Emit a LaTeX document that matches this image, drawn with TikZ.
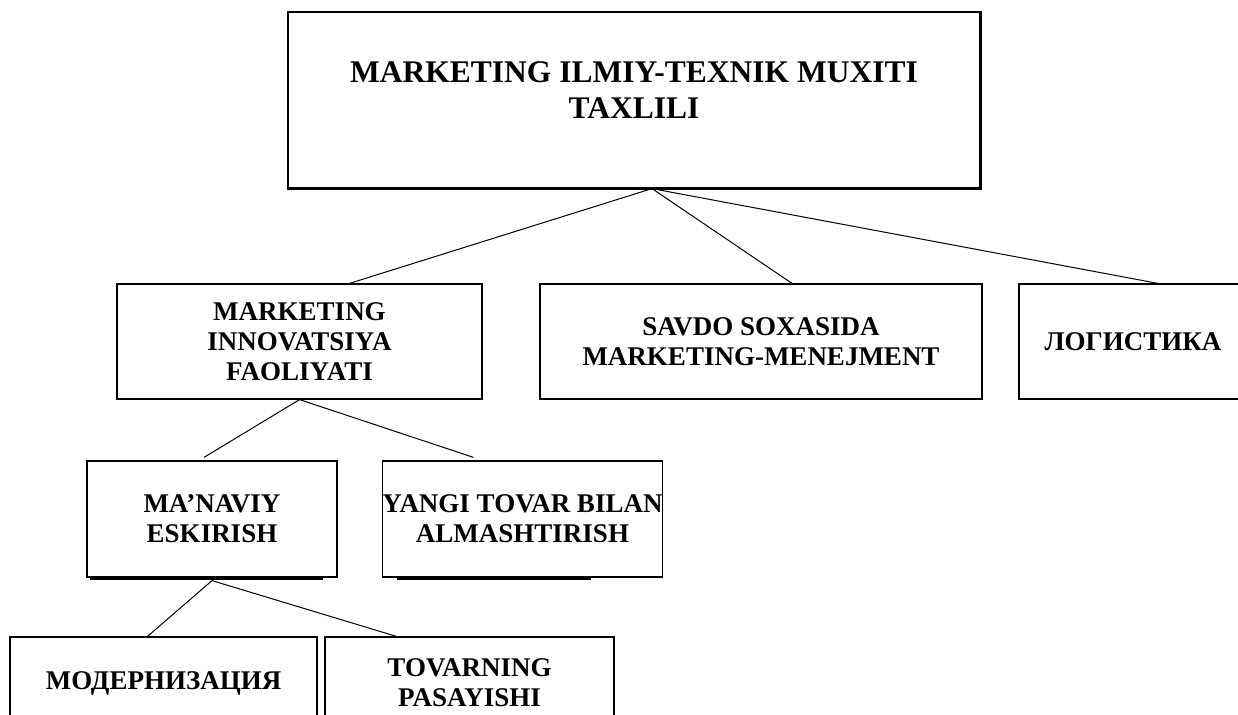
\documentclass[tikz,border=0pt]{standalone}
\usepackage{fontspec}
\setmainfont{Liberation Serif}
\usetikzlibrary{positioning}

\tikzset{
  box/.style={draw, line width=1.2pt, inner sep=0pt, align=center,
    font=\fontsize{27}{30}\selectfont\bfseries},
  link/.style={line width=1pt}
}

\begin{document}
\begin{tikzpicture}[x=1pt,y=-1pt]
        \useasboundingbox (0,0) rectangle (1238,714);

        % Top box
        \node[box, minimum width=692, minimum height=176] (taxlil) at (634,100) {};
        \node[font=\fontsize{31.5}{36}\selectfont\bfseries, align=center] (taxliltxt)
          at ([yshift=10pt]taxlil.center) {MARKETING ILMIY-TEXNIK MUXITI\\TAXLILI};
        \draw[line width=1.6pt] ([yshift=-1pt]taxlil.south west) -- ([xshift=1pt,yshift=-1pt]taxlil.south east)
          -- ([xshift=1pt]taxlil.north east);

        % Second row
        \node[box, minimum width=365, minimum height=115] (innov) at (299.5,341.5)
          {MARKETING\\INNOVATSIYA\\FAOLIYATI};
        \node[box, minimum width=442, minimum height=115] (savdo) at (761,341.5)
          {SAVDO SOXASIDA\\MARKETING-MENEJMENT};
        \node[box, minimum width=228, minimum height=115] (logist) at (1133,341.5)
          {ЛОГИСТИКА};

        % Third row
        \node[box, minimum width=250, minimum height=116] (manaviy) at (212,519)
          {MA’NAVIY\\ESKIRISH};
        \node[box, minimum width=279, minimum height=116] (yangi) at (522.5,519)
          {YANGI TOVAR BILAN\\ALMASHTIRISH};
        \draw[line width=2pt] ([xshift=4pt,yshift=-1.3pt]manaviy.south west) -- ([xshift=-15pt,yshift=-1.3pt]manaviy.south east);
        \draw[line width=2pt] ([xshift=15pt,yshift=-1.3pt]yangi.south west) -- ([xshift=-72pt,yshift=-1.3pt]yangi.south east);

        % Fourth row
        \node[box, minimum width=307, minimum height=92] (modern) at (163.5,683)
          {МОДЕРНИЗАЦИЯ};
        \node[box, minimum width=289, minimum height=92] (pasay) at (469.5,683)
          {TOVARNING\\PASAYISHI};

        % Connectors
        \coordinate (t1) at ([xshift=18pt]taxlil.south);
        \draw[link] (t1) -- ([xshift=50pt]innov.north);
        \draw[link] (t1) -- ([xshift=31pt]savdo.north);
        \draw[link] (t1) -- ([xshift=25pt]logist.north);

        \draw[link] (innov.south) -- ([xshift=-8pt,yshift=3pt]manaviy.north);
        \draw[link] (innov.south) -- ([xshift=-49pt,yshift=3pt]yangi.north);

        \draw[link] ([yshift=-3pt]manaviy.south) -- ([xshift=-16pt]modern.north);
        \draw[link] ([yshift=-3pt]manaviy.south) -- ([xshift=-73pt]pasay.north);
    \end{tikzpicture}
\end{document}
